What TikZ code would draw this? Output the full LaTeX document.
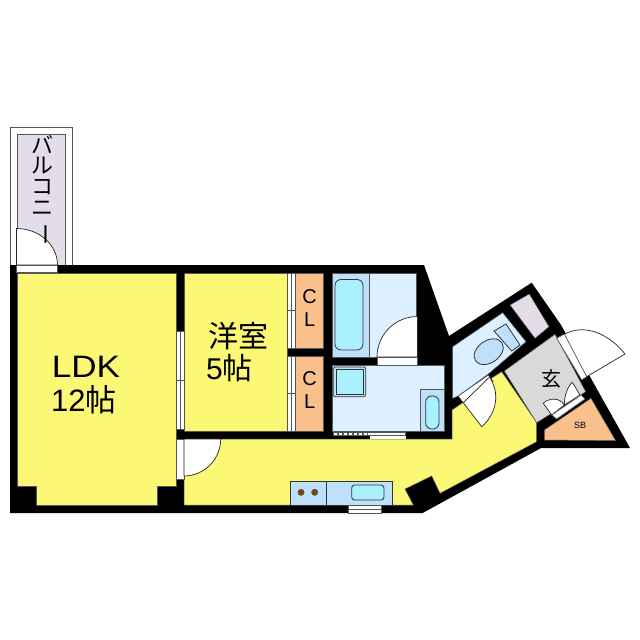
\documentclass[tikz,border=0pt]{standalone}
\usepackage{fontspec}
\setmainfont{Liberation Sans}
\newfontfamily\cjk{Noto Sans CJK JP}
\definecolor{lyellow}{HTML}{FBF876}
\definecolor{lorange}{HTML}{F9C08C}
\definecolor{lpurple}{HTML}{E3DDEA}
\definecolor{lgrey}{HTML}{D9D9D9}
\definecolor{pale}{HTML}{DDF0FF}
\definecolor{mid}{HTML}{BEE0FA}
\definecolor{tub}{HTML}{AAF0FF}
\definecolor{edge}{HTML}{555555}
\definecolor{burner}{HTML}{7A4410}
\tikzset{
  room/.style={draw=edge,line width=0.5pt},
  fixture/.style={draw=black!80,line width=0.8pt},
  leaf/.style={fill=white,draw=black!85,line width=0.7pt},
  strip/.style={fill=white,draw=edge,line width=0.7pt},
  label/.style={inner sep=0pt,text=black}
}
\begin{document}
\begin{tikzpicture}[x=1pt,y=-1pt]
\useasboundingbox (0,0) rectangle (640,640);
% balcony
\draw[draw=edge,line width=0.8pt,fill=white] (10,127) rectangle (72.3,265);
\draw[draw=edge,line width=0.8pt,fill=lpurple] (17.3,134) rectangle (65.7,265);
\draw[leaf] (16.5,265) -- (16.5,228.5) arc[start angle=-90,end angle=0,x radius=41,y radius=36.5] -- cycle;
% walls
\fill[black] (10,265) -- (424,265) -- (449,336) -- (531.7,282.7) -- (561,325) -- (630,448) -- (541,448) -- (422.7,513) -- (10,513) -- cycle;
\fill[white] (16.5,265.5) rectangle (57.5,272.7);
\draw[edge,line width=0.7pt] (16.5,265.5) rectangle (57.5,272.7);
% LDK
\fill[room,fill=lyellow] (17.5,273) -- (176,273) -- (176,486) -- (157,486) -- (157,505) -- (36,505) -- (36,486) -- (17.5,486) -- cycle;
% western room
\fill[room,fill=lyellow] (184,273) rectangle (287,431);
% closets
\fill[room,fill=lorange] (295,273) rectangle (323.7,348);
\fill[room,fill=lorange] (295,356) rectangle (323.7,431);
\draw[strip] (287,273) rectangle (295,348);
\draw[strip] (287,356) rectangle (295,431);
\draw[edge,line width=0.7pt] (291,273) -- (291,348) (291,356) -- (291,431) (287,310) -- (295,310) (287,393) -- (295,393);
% LDK window strip
\draw[strip] (176,331) rectangle (184,429);
\draw[edge,line width=0.7pt] (180,331) -- (180,429) (176,380) -- (184,380);
% corridor
\fill[room,fill=lyellow] (184,439) -- (452,439) -- (452,410) -- (463,402.5) -- (491.7,381) -- (491.7,378) -- (501.7,371.7) -- (536.7,422.7) -- (536.7,441.7) -- (440,493.3) -- (431.7,476) -- (405,489) -- (413.3,505) -- (184,505) -- cycle;
% door corridor
\draw[strip] (176,439) rectangle (184,479);
\draw[leaf] (184,439) -- (220.7,439) arc[start angle=0,end angle=90,radius=37] -- (184,476) -- cycle;
% bath
\fill[room,fill=pale] (332,273) rectangle (416,357);
\fill[room,fill=mid] (332,273) rectangle (369.5,357);
\draw[fixture,fill=tub,rounded corners=6pt] (335,279.5) rectangle (363,350);
\draw[strip] (377,357) rectangle (417.5,365);
\draw[leaf] (417.5,357) -- (377,357) arc[start angle=180,end angle=270,radius=40.5] -- cycle;
% washroom
\fill[room,fill=pale] (332,365) rectangle (444,431);
\fill[room,fill=mid] (420,389) rectangle (444,431);
\draw[fixture,fill=tub,rounded corners=6pt] (425.7,396) rectangle (439,429);
\draw[fixture,fill=mid,rounded corners=1.5pt] (333.3,367) rectangle (365.7,396.7);
\draw[fixture,fill=tub] (336,369.5) rectangle (363.5,394);
\fill[white] (370,436) rectangle (406,439);
\fill[edge] (333,432) rectangle (406,436);
\draw[white,line width=1.6pt,dash pattern=on 2.6pt off 2.4pt] (334,434) -- (368,434);
\fill[white] (368,433) rectangle (405,435);
% kitchen
\fill[room,fill=mid] (290.7,481.7) rectangle (392.7,505);
\draw[fixture] (290.7,481.7) rectangle (392.7,505) (326.7,481.7) -- (326.7,505);
\draw[fixture,fill=tub,rounded corners=3pt] (351.7,485) rectangle (384,500);
\fill[burner,draw=edge] (301,492.3) circle (3.2) (314.7,492.3) circle (3.2);
\draw[strip] (348.3,505) rectangle (381,513);
\draw[edge,line width=0.7pt] (348.3,509) -- (381,509);
% toilet room
\fill[room,fill=pale] (452.7,346.7) -- (502.7,312.7) -- (526,341.7) -- (488.3,374) -- (458.3,396) -- (452.7,398.3) -- cycle;
\draw[strip] (458.3,396) -- (488.3,375) -- (493.3,381.7) -- (463.3,402.7) -- cycle;
\draw[leaf] (463.3,402.7) -- (481.7,426.7) .. controls (492,418) and (503,398) .. (489.5,377) -- cycle;
\draw[fixture,fill=mid] (494,331) -- (506,324) -- (520,345) -- (511.7,351) -- cycle;
\draw[fixture,fill=mid,rotate around={35:(488.7,351.7)}] (488.7,351.7) ellipse (16 and 11);
% storage
\fill[room,fill=lpurple] (510,305) -- (529.3,294) -- (549,326.7) -- (535,338.3) -- cycle;
% entry
\fill[room,fill=lgrey] (504.3,371) -- (555,334.3) -- (585.7,391.7) -- (536.7,422.7) -- cycle;
\draw[leaf] (586.7,376.7) -- (625,354) .. controls (610,335) and (585,322) .. (563,335) -- cycle;
\draw[strip] (556.7,338.3) -- (564.3,334) -- (586.7,376.7) -- (581.7,380) -- cycle;
\draw[leaf] (551.7,415) -- (543.3,403.3) .. controls (548,398) and (560,397) .. (564.3,405) -- cycle;
\draw[leaf] (564.3,405) .. controls (564.3,395) and (568,386) .. (572.3,382.3) -- (580,395) -- cycle;
% shoe box
\fill[room,fill=lorange] (544.3,430) -- (591,398.3) -- (615.7,440.7) -- (544.3,440) -- cycle;
\draw[strip] (551.7,415) -- (581,395) -- (585,399) -- (556.7,419) -- cycle;
% labels
\node[label,font=\cjk\fontsize{22}{20.7}\selectfont,align=center,anchor=north] (balcony) at (42,135) {バ\\ル\\コ\\ニ\\\raisebox{13pt}[0pt][0pt]{\rotatebox{-90}{ー}}};
\node[label,font=\fontsize{31}{32}\selectfont,xscale=1.13] (ldk) at (86,367) {LDK};
\node[label,font=\fontsize{31}{32}\selectfont,anchor=west] (ldkb) at (51,400) {12{\cjk 帖}};
\node[label,font=\cjk\fontsize{30}{30}\selectfont,anchor=west] (western) at (208,336) {洋室};
\node[label,font=\fontsize{30}{30}\selectfont,anchor=west] (westernb) at (206,368) {5{\cjk 帖}};
\node[label,font=\fontsize{20}{21}\selectfont] (cla) at (309.7,297) {C};
\node[label,font=\fontsize{20}{21}\selectfont] (clb) at (309.7,320) {L};
\node[label,font=\fontsize{20}{21}\selectfont] (clc) at (309.7,379) {C};
\node[label,font=\fontsize{20}{21}\selectfont] (cld) at (309.7,402) {L};
\node[label,font=\cjk\fontsize{20}{21}\selectfont] (genkan) at (551.7,379) {玄};
\node[label,font=\fontsize{9}{10}\selectfont] (sb) at (580,425) {SB};
\end{tikzpicture}
\end{document}
